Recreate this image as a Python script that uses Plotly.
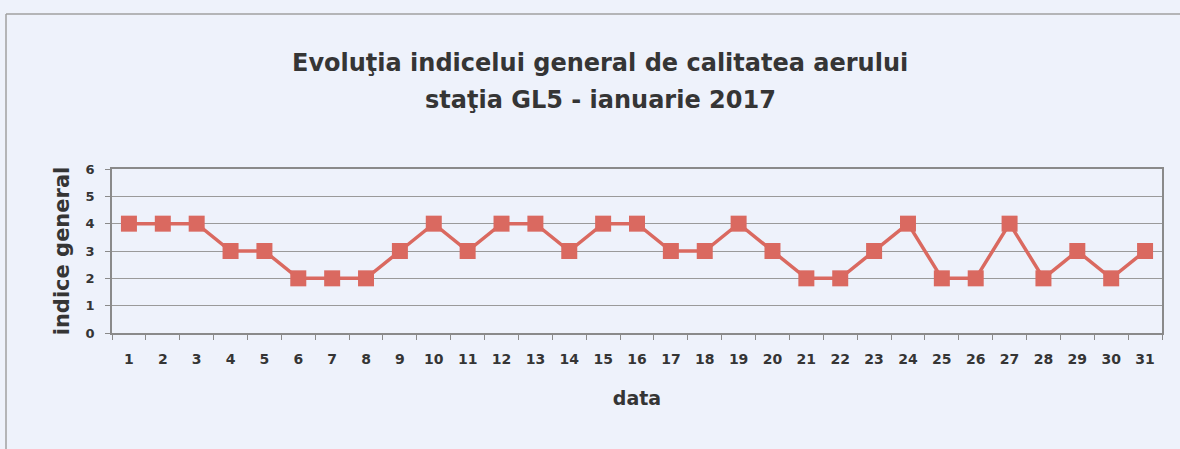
import plotly.graph_objects as go

days = [str(i) for i in range(1, 32)]
values = [4, 4, 4, 3, 3, 2, 2, 2, 3, 4, 3, 4, 4, 3, 4, 4, 3, 3, 4, 3,
          2, 2, 3, 4, 2, 2, 4, 2, 3, 2, 3]
title_line1 = "Evoluţia indicelui general de calitatea aerului"
title_line2 = "staţia GL5 - ianuarie 2017"
x_title = "data"
y_title = "indice general"

W, H = 1180, 449
L, R, T, B = 112, 18, 169, 116
pw, ph = W - L - R, H - T - B

def px(x):
    return (x - L) / pw

def py(y):
    return (H - B - y) / ph

bg = "#eef2fb"
red = "#da6960"
font = "DejaVu Sans, Liberation Sans, Arial, sans-serif"
txt = "#353535"
frame = dict(color="#a0a0a0", width=1.5)

fig = go.Figure(go.Scatter(
    x=days, y=values, mode="lines+markers",
    line=dict(color=red, width=3.5),
    marker=dict(symbol="square", size=16, color=red),
))

fig.update_layout(
    width=W, height=H,
    margin=dict(l=L, r=R, t=T, b=B, autoexpand=False),
    paper_bgcolor=bg, plot_bgcolor=bg,
    showlegend=False,
    font=dict(family=font, color=txt),
    xaxis=dict(
        type="category", range=[-0.5, 30.5], tickson="boundaries",
        ticks="outside", ticklen=5, ticklabelstandoff=12,
        tickcolor="#8a8a8a", showline=True, linecolor="#8a8a8a", linewidth=1.5,
        mirror=True, showgrid=False,
        tickfont=dict(size=14, family=font, color=txt, weight="bold"),
        title=dict(text="<b>" + x_title + "</b>", font=dict(size=19), standoff=26),
    ),
    yaxis=dict(
        range=[0, 6], dtick=1, ticks="outside", ticklen=5, tickcolor="#8a8a8a",
        ticklabelstandoff=8,
        showline=True, linecolor="#8a8a8a", linewidth=1.5, mirror=True,
        gridcolor="#9a9a9a", gridwidth=1, zeroline=False,
        tickfont=dict(size=13, family=font, color=txt, weight="bold"),
        title=dict(text="<b>" + y_title + "</b>", font=dict(size=21), standoff=10),
    ),
    annotations=[
        dict(text="<b>" + title_line1 + "</b>", xref="paper", yref="paper",
             x=px(600), y=py(63), showarrow=False, font=dict(size=24, color=txt),
             xanchor="center", yanchor="middle"),
        dict(text="<b>" + title_line2 + "</b>", xref="paper", yref="paper",
             x=px(600), y=py(100), showarrow=False, font=dict(size=24, color=txt),
             xanchor="center", yanchor="middle"),
    ],
    shapes=[
        dict(type="line", xref="paper", yref="paper",
             x0=px(6), x1=px(1180), y0=py(14), y1=py(14), line=frame, layer="below"),
        dict(type="line", xref="paper", yref="paper",
             x0=px(6), x1=px(6), y0=py(14), y1=py(449), line=frame, layer="below"),
    ],
)

fig.write_html(
    "out.html",
    config={"displayModeBar": False},
    post_script="document.body.style.margin='0';document.body.style.background='#eef2fb';",
)
